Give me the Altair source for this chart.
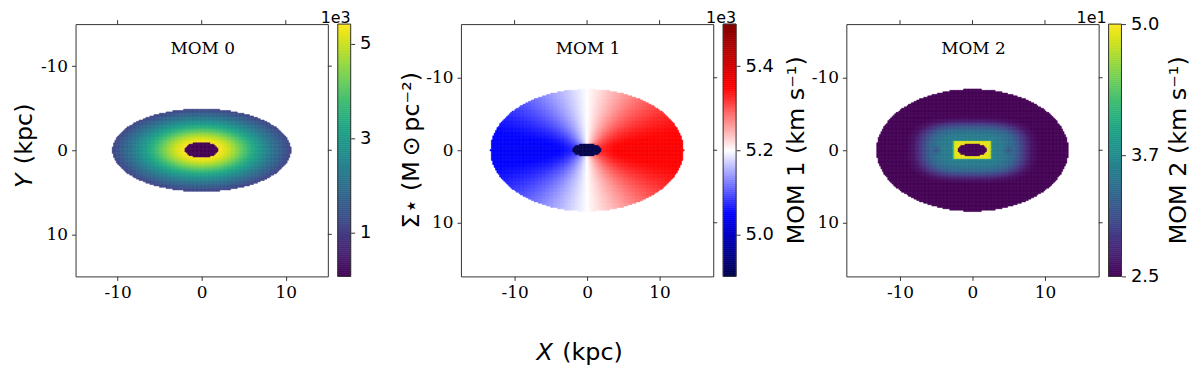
import numpy as np
import pandas as pd
import altair as alt

# ---------------- values (kpc / colour-bar units) ----------
TICKS = [-10, 0, 10]

# MOM 0 (units of 1e3)
MOM0_LIM = 15.0
MOM0_OUTER = [10.6, 4.9]
MOM0_HOLE = [2.0, 0.95]
MOM0_R = [2.0, 3.0, 4.0, 5.0, 6.0, 7.0, 8.0, 9.0, 10.0, 10.7]
MOM0_V = [5.42, 5.10, 4.60, 4.00, 3.40, 2.85, 2.30, 1.85, 1.40, 1.10]
MOM0_HOLE_V = 0.07
MOM0_RANGE = [0.07, 5.42]
MOM0_CB_TICKS = [1, 3, 5]

# MOM 1 (units of 1e3)
MOM1_LIM = 17.4
MOM1_OUTER = [13.3, 8.4]
MOM1_HOLE = [2.0, 0.9]
MOM1_SYS = 5.2
MOM1_R = [2.0, 4.0, 6.0, 13.3]
MOM1_VROT = [0.13, 0.15, 0.155, 0.155]
MOM1_HOLE_V = 4.90
MOM1_RANGE = [4.90, 5.50]
MOM1_CB_TICKS = [5.0, 5.2, 5.4]

# MOM 2 (units of 1e1)
MOM2_LIM = 17.4
MOM2_OUTER = [13.2, 8.4]
MOM2_HOLE = [2.0, 0.9]
MOM2_BOX = [2.45, 1.2]
MOM2_BOX_T = [0.0, 1.0, 1.12]
MOM2_BOX_V = [5.0, 4.9, 3.55]
MOM2_CORE = [7.7, 3.9]
MOM2_S = [0.0, 0.55, 0.75, 0.9, 1.05, 1.2]
MOM2_S_V = [3.58, 3.52, 3.30, 2.95, 2.62, 2.50]
MOM2_DIP_X = [-4.9, 4.9]
MOM2_DIP_DEPTH = 0.25
MOM2_DIP_RADIUS = 0.8
MOM2_HOLE_V = 2.5
MOM2_RANGE = [2.5, 5.0]
MOM2_CB_TICKS = [2.5, 3.7, 5.0]

TITLES = ["MOM 0", "MOM 1", "MOM 2"]
CB_LABELS = ["Σ⋆ (M\u2009⊙\u2009pc⁻²)", "MOM 1 (km s⁻¹)", "MOM 2 (km s⁻¹)"]
CB_EXP = ["1e3", "1e3", "1e1"]

W = 254          # plot size (px)
CB_X0, CB_X1 = 264, 277   # colour-bar position relative to the plot (px)


def cells(outer, step):
    a, b = outer
    nx, ny = int(np.ceil(a / step)), int(np.ceil(b / step))
    X, Y = np.meshgrid(step * np.arange(-nx, nx + 1), step * np.arange(-ny, ny + 1))
    m = (X / a) ** 2 + (Y / b) ** 2 <= 1.0
    return X[m], Y[m]


def frame(X, Y, V, step):
    h = step * 0.5
    return pd.DataFrame({
        "x0": np.round(X - h, 3), "x1": np.round(X + h, 3),
        "y0": np.round(Y - h, 3), "y1": np.round(Y + h, 3),
        "v": np.round(V, 4),
    })


# MOM 0 field
s0 = 0.16
X, Y = cells(MOM0_OUTER, s0)
q = MOM0_OUTER[1] / MOM0_OUTER[0]
R = np.sqrt(X ** 2 + (Y / q) ** 2)
V = np.interp(R, MOM0_R, MOM0_V)
hole = (X / MOM0_HOLE[0]) ** 2 + (Y / MOM0_HOLE[1]) ** 2 <= 1.0
V[hole] = MOM0_HOLE_V
df0 = frame(X, Y, V, s0)

# MOM 1 field
s1 = 0.19
X, Y = cells(MOM1_OUTER, s1)
q = MOM1_OUTER[1] / MOM1_OUTER[0]
R = np.sqrt(X ** 2 + (Y / q) ** 2)
cosphi = np.where(R > 0, X / np.maximum(R, 1e-9), 0.0)
V = MOM1_SYS + np.interp(R, MOM1_R, MOM1_VROT) * cosphi
hole = (X / MOM1_HOLE[0]) ** 2 + (Y / MOM1_HOLE[1]) ** 2 <= 1.0
V[hole] = MOM1_HOLE_V
df1 = frame(X, Y, V, s1)

# MOM 2 field
s2 = 0.19
X, Y = cells(MOM2_OUTER, s2)
S = ((np.abs(X) / MOM2_CORE[0]) ** 3 + (np.abs(Y) / MOM2_CORE[1]) ** 3) ** (1 / 3)
V = np.interp(S, MOM2_S, MOM2_S_V)
for dx in MOM2_DIP_X:
    d = np.sqrt((X - dx) ** 2 + Y ** 2)
    V = V - MOM2_DIP_DEPTH * np.clip(1 - d / MOM2_DIP_RADIUS, 0, 1)
T = np.maximum(np.abs(X) / MOM2_BOX[0], np.abs(Y) / MOM2_BOX[1])
VB = np.where(T <= MOM2_BOX_T[-1], np.interp(T, MOM2_BOX_T, MOM2_BOX_V), 0.0)
V = np.maximum(V, VB)
hole = (X / MOM2_HOLE[0]) ** 2 + (Y / MOM2_HOLE[1]) ** 2 <= 1.0
V[hole] = MOM2_HOLE_V
df2 = frame(X, Y, V, s2)


def cscale(i):
    if i == 1:
        return alt.Scale(domain=[4.90, 5.05, 5.20, 5.35, 5.50],
                         range=["#00004c", "#0000ff", "#ffffff", "#ff0000", "#800000"],
                         interpolate="rgb", clamp=True)
    return alt.Scale(scheme="viridis", domain=[MOM0_RANGE, None, MOM2_RANGE][i], clamp=True)


def txt(text, **kw):
    return alt.Chart(pd.DataFrame({"t": [text]})).mark_text(**kw).encode(text="t:N")


def panel(df, lim, i, rng, cb_ticks, fmt, label_x, exp_x, extra):
    sx = alt.Scale(domain=[-lim, lim], nice=False, zero=False)
    sy = alt.Scale(domain=[-lim, lim], nice=False, zero=False, reverse=True)
    lab = "'' + datum.value"
    heat = alt.Chart(df).mark_rect(strokeWidth=0.5).encode(
        x=alt.X("x0:Q", scale=sx, title=None,
                axis=alt.Axis(orient="bottom", values=TICKS, labelExpr=lab)),
        x2="x1:Q",
        y=alt.Y("y0:Q", scale=sy, title=None,
                axis=alt.Axis(orient="left", values=TICKS, labelExpr=lab)),
        y2="y1:Q",
        color=alt.Color("v:Q", scale=cscale(i), legend=None),
        stroke=alt.Stroke("v:Q", scale=cscale(i), legend=None),
    )
    tdf = pd.DataFrame({"t": TICKS})
    top_ticks = alt.Chart(tdf).mark_rule(color="#333333", strokeWidth=1).encode(
        x=alt.X("t:Q", scale=sx, axis=None), y=alt.value(0), y2=alt.value(-4))
    right_ticks = alt.Chart(tdf).mark_rule(color="#333333", strokeWidth=1).encode(
        y=alt.Y("t:Q", scale=sy, axis=None), x=alt.value(W), x2=alt.value(W + 4))
    title = txt(TITLES[i], font="DejaVu Serif", fontSize=17, align="center",
                baseline="alphabetic", color="black").encode(
        x=alt.value(128), y=alt.value(30))

    # colour bar
    edges = np.linspace(rng[0], rng[1], 129)
    cdf = pd.DataFrame({"lo": edges[:-1], "hi": edges[1:],
                        "v": (edges[:-1] + edges[1:]) / 2})
    ax = dict(orient="right", values=cb_ticks, labelFont="DejaVu Sans",
              labelFontSize=18, labelPadding=5, offset=CB_X1 - W)
    if fmt:
        ax["format"] = fmt
    else:
        ax["labelExpr"] = lab
    cb = alt.Chart(cdf).mark_rect(strokeWidth=0.6).encode(
        x=alt.value(CB_X0), x2=alt.value(CB_X1),
        y=alt.Y("lo:Q", scale=alt.Scale(domain=rng, nice=False, zero=False),
                title=None, axis=alt.Axis(**ax)),
        y2="hi:Q",
        color=alt.Color("v:Q", scale=cscale(i), legend=None),
        stroke=alt.Stroke("v:Q", scale=cscale(i), legend=None),
    )
    cb_frame = alt.Chart(pd.DataFrame({"t": [0]})).mark_rect(
        fill=None, stroke="#333333", strokeWidth=1).encode(
        x=alt.value(CB_X0), x2=alt.value(CB_X1), y=alt.value(0), y2=alt.value(W))
    cb_lab = txt(CB_LABELS[i], font="DejaVu Sans", fontSize=24, angle=270,
                 align="center", baseline="alphabetic", color="black").encode(
        x=alt.value(label_x), y=alt.value(127))
    cb_exp = txt(CB_EXP[i], font="DejaVu Sans", fontSize=16, align="right",
                 baseline="alphabetic", color="black").encode(
        x=alt.value(exp_x), y=alt.value(-1))

    layers = [heat, top_ticks, right_ticks, title, cb, cb_frame, cb_lab, cb_exp] + extra
    return alt.layer(*layers).resolve_scale(
        x="independent", y="independent", color="independent", stroke="independent"
    ).resolve_axis(x="independent", y="independent").properties(width=W, height=W)


ylab = [
    txt("Y", font="DejaVu Sans", fontSize=24, fontStyle="italic", angle=270,
        align="left", baseline="alphabetic", color="black").encode(
        x=alt.value(-44), y=alt.value(165)),
    txt("(kpc)", font="DejaVu Sans", fontSize=24, angle=270,
        align="left", baseline="alphabetic", color="black").encode(
        x=alt.value(-44), y=alt.value(141)),
]
xlab = [
    txt("X", font="DejaVu Sans", fontSize=24, fontStyle="italic",
        align="left", baseline="alphabetic", color="black").encode(
        x=alt.value(76), y=alt.value(338)),
    txt("(kpc)", font="DejaVu Sans", fontSize=24,
        align="left", baseline="alphabetic", color="black").encode(
        x=alt.value(102), y=alt.value(338)),
]

p0 = panel(df0, MOM0_LIM, 0, MOM0_RANGE, MOM0_CB_TICKS, None, CB_X0 + 82, CB_X1, ylab)
p1 = panel(df1, MOM1_LIM, 1, MOM1_RANGE, MOM1_CB_TICKS, ".1f", CB_X0 + 81, CB_X1, xlab)
p2 = panel(df2, MOM2_LIM, 2, MOM2_RANGE, MOM2_CB_TICKS, ".1f", CB_X0 + 78, CB_X0 - 2, [])

chart = alt.hconcat(p0, p1, p2, spacing=134, bounds="flush").resolve_scale(
    x="independent", y="independent", color="independent", stroke="independent"
).properties(
    padding={"left": 4, "top": 0, "right": 0, "bottom": 0}
).configure_view(stroke="#333333", strokeWidth=1).configure_axis(
    domain=False, grid=False, ticks=True, tickSize=4, tickColor="#333333",
    tickWidth=1, labelFont="DejaVu Serif", labelFontSize=17, labelColor="black",
    labelPadding=4,
)

chart.save("out.html", embed_options={"renderer": "svg", "actions": False})
